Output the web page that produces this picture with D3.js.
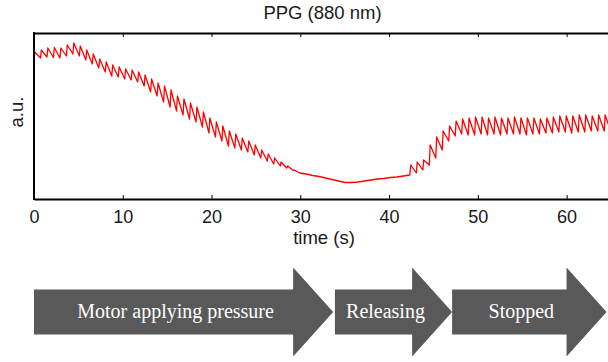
<!DOCTYPE html>
<html>
<head>
<meta charset="utf-8">
<script src="https://cdn.jsdelivr.net/npm/d3@7"></script>
<style>
  body { margin: 0; background: #fff; }
  svg { display: block; }
  .axis text { font-family: "Liberation Sans", Arial, sans-serif; font-size: 18px; fill: #1a1a1a; }
</style>
</head>
<body>
<div id="ppg-container"></div>
<script>
// ---- data ----
var timeTicks = [0, 10, 20, 30, 40, 50, 60];

// onset of each heartbeat (s)
var beatTime = [
  0.00, 0.73, 1.46, 2.19, 2.92, 3.65, 4.38, 5.11, 5.84, 6.57,
  7.30, 8.03, 8.76, 9.49, 10.22, 10.95, 11.68, 12.41, 13.14, 13.87,
  14.60, 15.33, 16.06, 16.79, 17.52, 18.25, 18.98, 19.71, 20.44, 21.17,
  21.90, 22.63, 23.36, 24.09, 24.82, 25.55, 26.28, 27.01, 27.74, 28.47,
  29.20, 29.93, 30.66, 31.39, 32.12, 32.85, 33.58, 34.31, 35.04, 35.77,
  36.50, 37.23, 37.96, 38.69, 39.42, 40.15, 40.88, 41.61, 42.34, 43.07,
  43.80, 44.53, 45.26, 45.99, 46.72, 47.45, 48.18, 48.91, 49.64, 50.37,
  51.10, 51.83, 52.56, 53.29, 54.02, 54.75, 55.48, 56.21, 56.94, 57.67,
  58.40, 59.13, 59.86, 60.59, 61.32, 62.05, 62.78, 63.51, 64.24, 64.97
];
// signal at the foot of each beat (a.u.)
var troughAU = [
  139, 141, 142, 141.5, 141, 143, 145, 143, 139, 135,
  131, 127, 123, 122, 120, 119, 117, 113, 107, 103,
  97, 92, 88, 84, 80, 77, 72, 66, 62, 58,
  53, 51, 49, 47, 44, 41, 38, 35, 33, 31,
  28.5, 26, 25, 23.5, 22.5, 21, 19.5, 18, 16.5, 16.5,
  17, 18, 19, 20, 20.5, 21.5, 22, 23, 24, 26,
  29, 34, 41, 49, 58, 63, 65, 64, 64, 65,
  64, 65, 64, 65, 65, 65, 64, 65, 65, 66,
  66, 67, 67, 66, 67, 67, 68, 68, 68, 68
];
// signal at the top of each beat (a.u.)
var peakAU = [
  147, 149, 151, 151.5, 151, 154, 156, 153, 149, 145,
  140, 137, 134, 132, 130, 129, 127, 124, 120, 116,
  113, 109, 103, 100, 96, 92, 87, 81, 77, 73,
  68, 65, 61, 58, 54, 49, 45, 41, 37, 33,
  29, 26, 25, 23.5, 22.5, 21, 19.5, 18, 16.5, 16.5,
  17, 18, 19, 20, 20.5, 21.5, 22, 23, 34, 37,
  39, 54, 62, 68, 73, 78, 80, 81, 82, 82,
  81, 82, 81, 81, 82, 81, 81, 81, 80, 81,
  82, 83, 83, 83, 84, 84, 83, 84, 84, 84
];
var riseTime = 0.1; // s from foot to top of a beat

var phaseNames = ["Motor applying pressure", "Releasing", "Stopped"];
var phaseStart = [0, 33.9, 47.1];
var phaseEnd = [33.7, 47.1, 64.5];

// ---- layout ----
var width = 608, height = 362;
var plot = { left: 34, right: 611, top: 33, bottom: 199 };

var svg = d3.select("#ppg-container").append("svg")
  .attr("width", width)
  .attr("height", height);

var x = d3.scaleLinear().domain([0, 65]).range([plot.left, plot.right]);
var y = d3.scaleLinear().domain([0, 166]).range([plot.bottom, plot.top]);

// build the trace: foot -> top -> next foot
var trace = [];
beatTime.forEach(function(t, i) {
  trace.push([t, troughAU[i]]);
  if (peakAU[i] !== troughAU[i]) trace.push([t + riseTime, peakAU[i]]);
});

svg.append("clipPath").attr("id", "plot-clip")
  .append("rect")
  .attr("x", plot.left).attr("y", plot.top)
  .attr("width", plot.right - plot.left).attr("height", plot.bottom - plot.top);

svg.append("path")
  .datum(trace)
  .attr("clip-path", "url(#plot-clip)")
  .attr("fill", "none")
  .attr("stroke", "#ff0000")
  .attr("stroke-width", 1.3)
  .attr("stroke-linejoin", "round")
  .attr("d", d3.line().x(function(d) { return x(d[0]); }).y(function(d) { return y(d[1]); }));

// axes
var xAxis = d3.axisBottom(x).tickValues(timeTicks).tickSizeInner(-4).tickSizeOuter(0).tickPadding(11);
var gx = svg.append("g")
  .attr("class", "axis")
  .attr("transform", "translate(0," + plot.bottom + ")")
  .call(xAxis);

var gTop = svg.append("g")
  .attr("class", "axis")
  .attr("transform", "translate(0," + plot.top + ")")
  .call(d3.axisTop(x).tickValues(timeTicks).tickFormat("").tickSizeInner(-4).tickSizeOuter(0));

[gx, gTop].forEach(function(g) {
  g.select(".domain").attr("stroke", "#000").attr("stroke-width", 2);
  g.selectAll(".tick line").attr("stroke", "#000").attr("stroke-width", 1);
});

svg.append("line")
  .attr("x1", plot.left).attr("x2", plot.left)
  .attr("y1", plot.top - 1).attr("y2", plot.bottom + 1)
  .attr("stroke", "#000").attr("stroke-width", 2);

// titles
svg.append("text")
  .attr("x", 322.5).attr("y", 18.5)
  .attr("text-anchor", "middle")
  .style("font-family", "'Liberation Sans', Arial, sans-serif")
  .style("font-size", "18.5px")
  .style("fill", "#1a1a1a")
  .text("PPG (880 nm)");

svg.append("text")
  .attr("x", 324).attr("y", 244)
  .attr("text-anchor", "middle")
  .style("font-family", "'Liberation Sans', Arial, sans-serif")
  .style("font-size", "18.5px")
  .style("fill", "#1a1a1a")
  .text("time (s)");

svg.append("text")
  .attr("transform", "translate(22.5," + 112 + ") rotate(-90)")
  .attr("text-anchor", "middle")
  .style("font-family", "'Liberation Sans', Arial, sans-serif")
  .style("font-size", "18.5px")
  .style("fill", "#1a1a1a")
  .text("a.u.");

// phase arrows
var arrowMid = 312, bodyHalf = 22.5, headHalf = 44.5, headLen = 40;
var arrows = svg.selectAll(".phase")
  .data(phaseNames)
  .enter().append("g")
  .attr("class", "phase");

arrows.append("path")
  .attr("fill", "#595959")
  .attr("d", function(d, i) {
    var x0 = x(phaseStart[i]), x2 = x(phaseEnd[i]), x1 = x2 - headLen;
    return "M" + x0 + "," + (arrowMid - bodyHalf) +
      "H" + x1 + "V" + (arrowMid - headHalf) +
      "L" + x2 + "," + arrowMid +
      "L" + x1 + "," + (arrowMid + headHalf) +
      "V" + (arrowMid + bodyHalf) + "H" + x0 + "Z";
  });

arrows.append("text")
  .attr("x", function(d, i) { return (x(phaseStart[i]) + x(phaseEnd[i])) / 2 - 8; })
  .attr("y", 318)
  .attr("text-anchor", "middle")
  .style("font-family", "'Liberation Serif', 'Times New Roman', serif")
  .style("font-size", "20px")
  .style("fill", "#fff")
  .text(function(d) { return d; });
</script>
</body>
</html>
